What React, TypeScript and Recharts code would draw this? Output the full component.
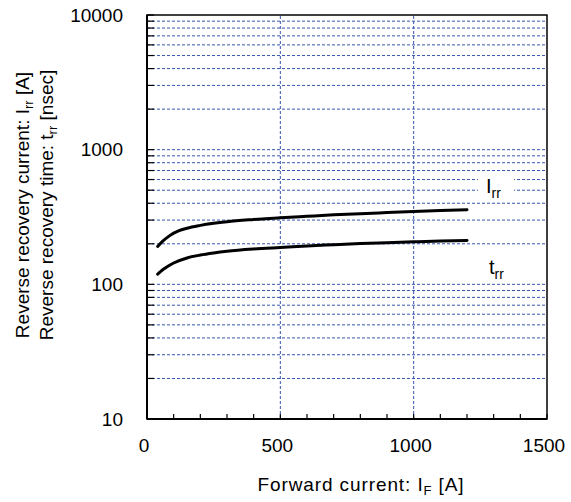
import { LineChart, Line, XAxis, YAxis, ReferenceLine, ReferenceArea } from "recharts"

// forward current I_F [A]
const forwardCurrent = [40, 60, 80, 100, 150, 200, 250, 300, 400, 500, 600, 700, 800, 900, 1000, 1100, 1200]
// reverse recovery current I_rr [A]
const irr = [191, 210, 226, 240, 261, 274, 284, 292, 303, 312, 320, 328, 335, 341, 347, 353, 358]
// reverse recovery time t_rr [nsec]
const trr = [119, 129, 137, 144, 157, 165, 171, 176, 183, 188, 193, 197, 201, 204, 207, 210, 212]

const xTicks = [0, 100, 200, 300, 400, 500, 600, 700, 800, 900, 1000, 1100, 1200, 1300, 1400, 1500]
const xLabels = [0, 500, 1000, 1500]
const yTicks = [
  10, 20, 30, 40, 50, 60, 70, 80, 90,
  100, 200, 300, 400, 500, 600, 700, 800, 900,
  1000, 2000, 3000, 4000, 5000, 6000, 7000, 8000, 9000, 10000,
]
const yLabels = [10, 100, 1000, 10000]
const xGrid = [500, 1000]

const data = forwardCurrent.map((f, i) => ({ f, irr: irr[i], trr: trr[i] }))

const FONT = "'Liberation Sans', Arial, sans-serif"
const GRID = "#3656ac"

function XTick(props: any) {
  const { x, y, payload } = props
  return (
    <g>
      <line x1={x} y1={y} x2={x} y2={y - 5} stroke="#000" strokeWidth={1.2} />
      {xLabels.includes(payload.value) && (
        <text x={x - 3} y={y + 26} textAnchor="middle" dominantBaseline="central" fontSize={19} fontFamily={FONT} fill="#000">
          {payload.value}
        </text>
      )}
    </g>
  )
}

function YTick(props: any) {
  const { x, y, payload } = props
  return (
    <g>
      <line x1={x} y1={y} x2={x + 7} y2={y} stroke="#000" strokeWidth={1.2} />
      {yLabels.includes(payload.value) && (
        <text x={x - 24} y={y} textAnchor="end" dominantBaseline="central" fontSize={19} fontFamily={FONT} fill="#000">
          {payload.value}
        </text>
      )}
    </g>
  )
}

export default function App() {
  return (
    <div style={{ position: "absolute", left: 0, top: 0, width: 571, height: 502, background: "#fff" }}>
      <LineChart width={571} height={502} data={data} margin={{ top: 15, right: 24, left: 0, bottom: 0 }}>
        <XAxis
          dataKey="f"
          type="number"
          domain={[0, 1500]}
          ticks={xTicks}
          interval={0}
          height={83}
          tickSize={0}
          tickMargin={0}
          tickLine={false}
          axisLine={{ stroke: "#000", strokeWidth: 2 }}
          tick={<XTick />}
        />
        <YAxis
          type="number"
          scale="log"
          domain={[10, 10000]}
          allowDataOverflow
          ticks={yTicks}
          interval={0}
          width={147}
          tickSize={0}
          tickMargin={0}
          tickLine={false}
          axisLine={{ stroke: "#000", strokeWidth: 2 }}
          tick={<YTick />}
        />
        {yTicks.filter((v) => v > 10 && v < 10000).map((v) => (
          <ReferenceLine key={`h${v}`} y={v} stroke={GRID} strokeDasharray="3 2" strokeWidth={1} />
        ))}
        {xGrid.map((v) => (
          <ReferenceLine key={`v${v}`} x={v} stroke={GRID} strokeDasharray="3 2" strokeWidth={1} />
        ))}
        <ReferenceArea x1={0} x2={1500} y1={10} y2={10000} fill="none" stroke="#000" strokeWidth={1.5} />
        <Line type="monotone" dataKey="irr" stroke="#000" strokeWidth={3} strokeLinecap="round" dot={false} isAnimationActive={false} />
        <Line type="monotone" dataKey="trr" stroke="#000" strokeWidth={3} strokeLinecap="round" dot={false} isAnimationActive={false} />
      </LineChart>

      <svg width={571} height={502} style={{ position: "absolute", left: 0, top: 0, pointerEvents: "none" }} fontFamily={FONT}>
        <rect x={478} y={174} width={36} height={25} fill="#fff" />
        <text x={486} y={193} fontSize={20} fill="#000">
          I<tspan fontSize={14} dy={5}>rr</tspan>
        </text>
        <text x={489} y={274} fontSize={20} fill="#000">
          t<tspan fontSize={14} dy={5}>rr</tspan>
        </text>
        <text x={361} y={491} textAnchor="middle" fontSize={19} letterSpacing={0.9} fill="#000">
          Forward current: I<tspan fontSize={13} dy={4}>F</tspan>
          <tspan dy={-4}> [A]</tspan>
        </text>
        <text transform="translate(29,205) rotate(-90)" textAnchor="middle" fontSize={19} fill="#000">
          Reverse recovery current: I<tspan fontSize={13} dy={4}>rr</tspan>
          <tspan dy={-4}> [A]</tspan>
        </text>
        <text transform="translate(53,205) rotate(-90)" textAnchor="middle" fontSize={19} fill="#000">
          Reverse recovery time: t<tspan fontSize={13} dy={4}>rr</tspan>
          <tspan dy={-4}> [nsec]</tspan>
        </text>
      </svg>
    </div>
  )
}
